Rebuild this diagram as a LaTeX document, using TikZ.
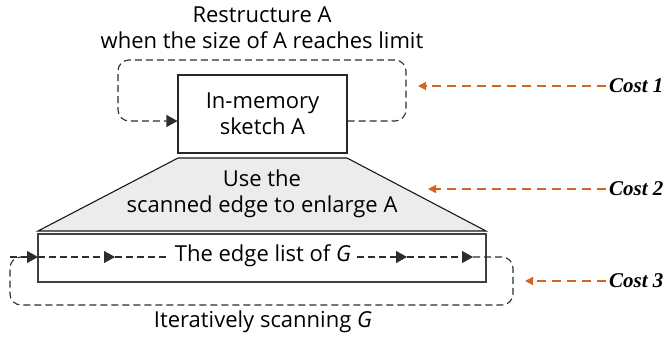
\documentclass[tikz,border=0pt]{standalone}
\usepackage{fontspec}
\setmainfont{Open Sans}
\newfontfamily\costfont{Liberation Serif}
\usetikzlibrary{arrows.meta}
\definecolor{costorange}{RGB}{212,100,30}
\definecolor{panelgray}{RGB}{236,236,236}
\definecolor{loopgray}{RGB}{45,45,45}
\tikzset{
  lbl/.style={font=\fontsize{22}{26}\selectfont, align=center, inner sep=1pt},
  boxnode/.style={draw=black!85, line width=1.1pt, fill=white, lbl},
  loopline/.style={draw=loopgray, line width=1.1pt, dash pattern=on 7pt off 4pt, rounded corners=11pt},
  tip/.style={-{Triangle[length=11pt,width=12pt]}},
  costarrow/.style={draw=costorange, line width=1.5pt, dash pattern=on 9pt off 6pt, -{Triangle[length=8pt,width=8pt]}},
  costlbl/.style={font=\costfont\bfseries\itshape\fontsize{21}{24}\selectfont, anchor=west, inner sep=3pt},
}
\begin{document}
\begin{tikzpicture}[x=1pt,y=-1pt]
\useasboundingbox (0,0) rectangle (669,343);

% title of the restructuring loop
\node[lbl] (title) at (262,28) {Restructure A\\when the size of A reaches limit};

% trapezoid that connects the edge list to the sketch
\coordinate (tl) at (178,158);
\coordinate (tr) at (347,158);
\coordinate (bl) at (38,231);
\coordinate (br) at (486,231);
\filldraw[fill=panelgray, draw=black!90, line width=1.1pt] (bl) -- (tl) -- (tr) -- (br) -- cycle;
\node[lbl] (use) at (262,194) {Use the\\scanned edge to enlarge A};

% in-memory sketch
\node[boxnode, minimum width=169pt, minimum height=78pt] (sketch) at (262.5,114) {In-memory\\sketch A};

% restructuring loop around the sketch
\coordinate (r1) at (406,121);
\coordinate (r2) at (406,60);
\coordinate (r3) at (118,60);
\coordinate (r4) at (118,121);
\draw[loopline, tip] (sketch.east |- r1) -- (r1) -- (r2) -- (r3) -- (r4) -- (sketch.west |- r4);

% edge list
\node[boxnode, draw=black!75, minimum width=448pt, minimum height=48pt] (elist) at (262,258) {};

% scanning loop through the edge list
\coordinate (p0) at (38,257);
\coordinate (p1) at (115,257);
\coordinate (p2) at (407,257);
\coordinate (p3) at (473,257);
\coordinate (q1) at (513,257);
\coordinate (q2) at (513,305);
\coordinate (q3) at (10,305);
\coordinate (q4) at (10,257);
\draw[loopline] (p3) -- (q1) -- (q2) -- (q3) -- (q4) -- ([xshift=-4pt]p0);
\draw[loopline, tip] (q4) -- (p0);
\draw[loopline, tip] (p0) -- (p1);
\draw[loopline, tip] (p1) -- (p2);
\draw[loopline, tip] (p2) -- (p3);
\node[lbl, fill=white, inner sep=5pt] (elabel) at (263,256) {The edge list of \textit{G}};

\node[lbl] (iter) at (263,322) {Iteratively scanning \textit{G}};

% cost annotations
\node[costlbl] (c1) at (606,86) {Cost 1};
\node[costlbl] (c2) at (606,189) {Cost 2};
\node[costlbl] (c3) at (606,281) {Cost 3};
\coordinate (t1) at (418,86);
\coordinate (t2) at (428,189);
\coordinate (t3) at (525,281);
\draw[costarrow] (c1.west) -- (t1);
\draw[costarrow] (c2.west) -- (t2);
\draw[costarrow] (c3.west) -- (t3);
\end{tikzpicture}
\end{document}
